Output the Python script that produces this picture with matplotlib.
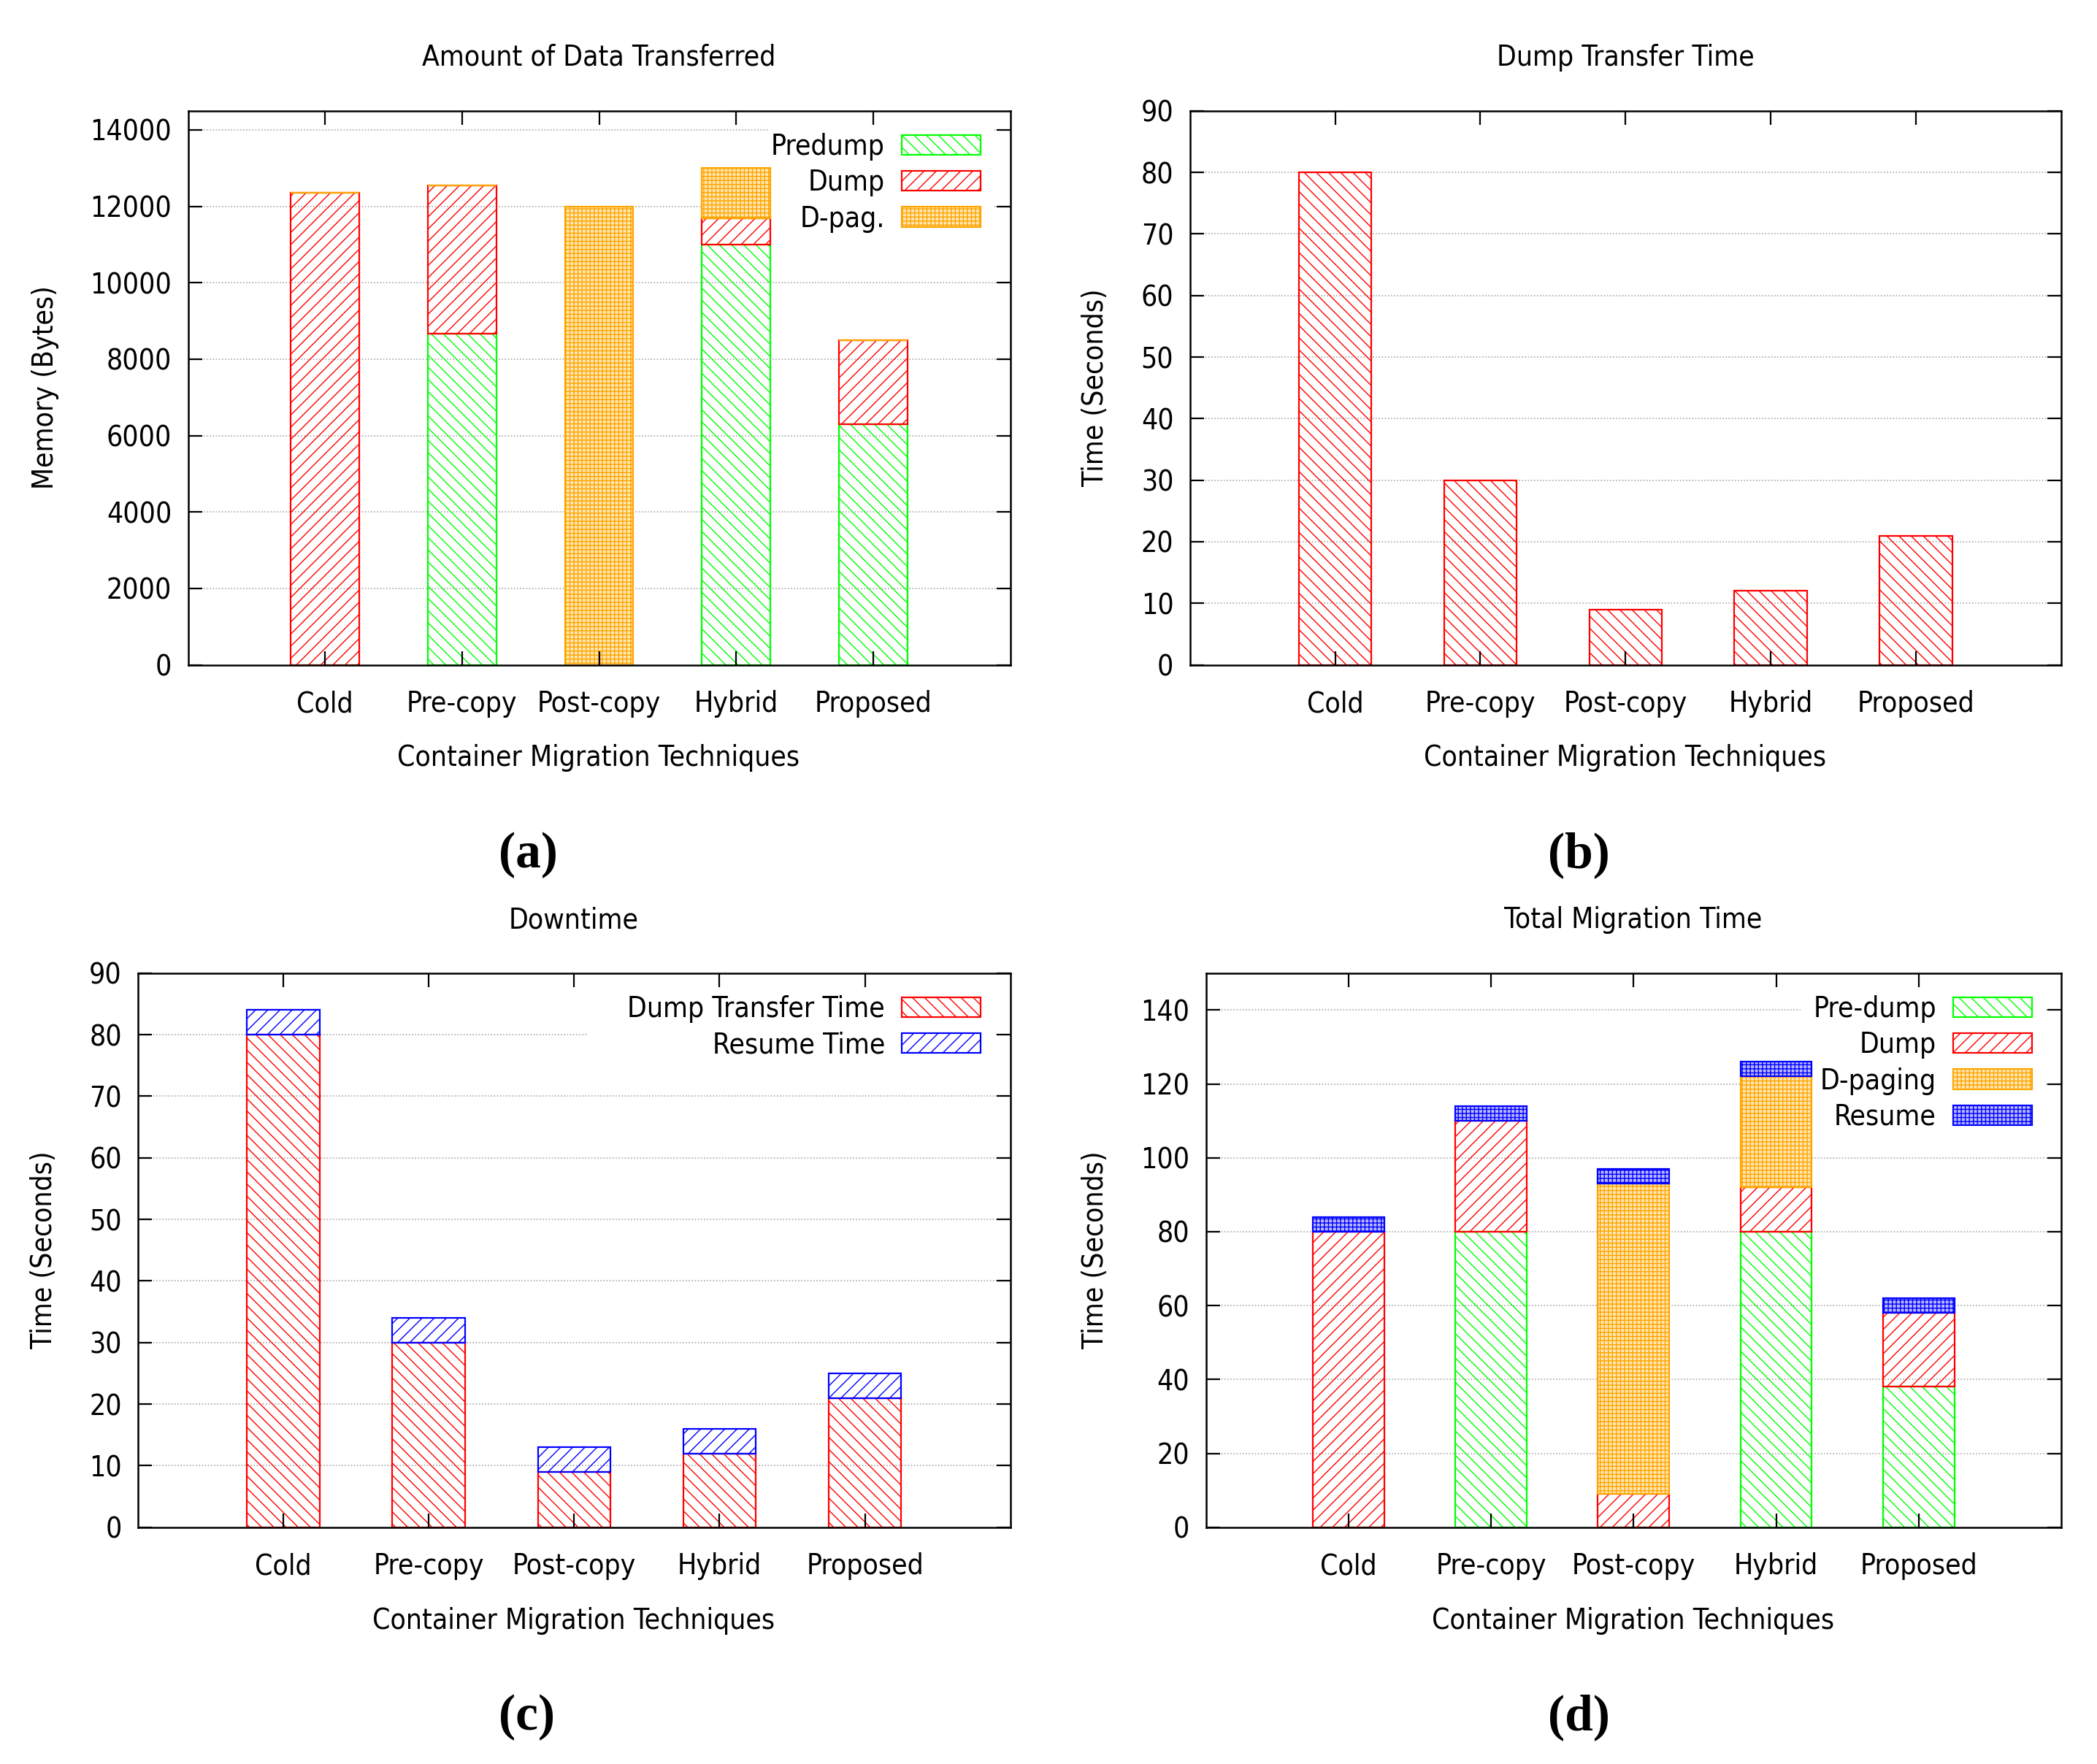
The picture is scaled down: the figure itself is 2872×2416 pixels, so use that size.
import matplotlib
matplotlib.use('Agg')
import matplotlib.pyplot as plt
from matplotlib.patches import Rectangle, Patch

# ---------------- data ----------------
categories = ['Cold', 'Pre-copy', 'Post-copy', 'Hybrid', 'Proposed']

# (a) Amount of Data Transferred
a_predump = [0, 8670, 0, 11000, 6300]
a_dump = [12350, 3880, 0, 680, 2200]
a_dpag = [0, 0, 12000, 1320, 0]
a_yticks = [0, 2000, 4000, 6000, 8000, 10000, 12000, 14000]

# (b) Dump Transfer Time
b_dump_time = [80, 30, 9, 12, 21]
b_yticks = [0, 10, 20, 30, 40, 50, 60, 70, 80, 90]

# (c) Downtime
c_dump_time = [80, 30, 9, 12, 21]
c_resume = [4, 4, 4, 4, 4]
c_yticks = [0, 10, 20, 30, 40, 50, 60, 70, 80, 90]

# (d) Total Migration Time
d_predump = [0, 80, 0, 80, 38]
d_dump = [80, 30, 9, 12, 20]
d_dpaging = [0, 0, 84, 30, 0]
d_resume = [4, 4, 4, 4, 4]
d_yticks = [0, 20, 40, 60, 80, 100, 120, 140]

# ---------------- style ----------------
W, H = 2872, 2416
DPI = 200
FS = 14
SANS = ['DejaVu Sans Condensed', 'DejaVu Sans']
plt.rcParams['font.family'] = SANS
plt.rcParams['font.stretch'] = 'condensed'
plt.rcParams['hatch.linewidth'] = 0.5

GREEN = '#00ff00'
RED = '#ff0000'
ORANGE = '#ffa500'
BLUE = '#0000ff'

ST = {
    'predump': dict(facecolor='none', edgecolor=GREEN, hatch='\\\\\\\\'),
    'dump_fwd': dict(facecolor='none', edgecolor=RED, hatch='////'),
    'dump_back': dict(facecolor='none', edgecolor=RED, hatch='\\\\\\\\'),
    'dpag': dict(facecolor='#ffe6b3', edgecolor=ORANGE, hatch='++++++'),
    'resume_line': dict(facecolor='none', edgecolor=BLUE, hatch='////'),
    'resume_chk': dict(facecolor='#b8b8ff', edgecolor=BLUE, hatch='++++++'),
}
BAR_W = 0.5
EDGE_LW = 0.8

fig = plt.figure(figsize=(W / DPI, H / DPI), dpi=DPI)


def add_ax(l, t, r, b):
    return fig.add_axes([l / W, 1 - b / H, (r - l) / W, (b - t) / H])


def ftext(x, y, s, **kw):
    fig.text(x / W, 1 - y / H, s, ha='center', va='center', **kw)


def style_axes(ax, yticks, ylim):
    x = list(range(len(categories)))
    ax.set_xlim(-1, 5)
    ax.set_ylim(*ylim)
    ax.set_xticks(x)
    ax.set_xticklabels(categories, fontsize=FS)
    ax.set_yticks(yticks)
    ax.set_yticklabels([str(v) for v in yticks], fontsize=FS)
    ax.tick_params(axis='both', direction='in', length=6.8, width=0.8,
                   top=True, right=True, colors='black')
    ax.tick_params(axis='x', pad=12.5)
    ax.tick_params(axis='y', pad=8)
    for s in ax.spines.values():
        s.set_linewidth(0.9)
    for v in yticks:
        if v > ylim[0]:
            ax.axhline(v, color='#a8a8a8', lw=0.6, ls=(0, (1, 1.5)), zorder=0.5)
    return x


def stack(ax, x, series):
    bottom = [0] * len(x)
    for vals, key in series:
        ax.bar(x, vals, bottom=bottom, width=BAR_W, linewidth=EDGE_LW,
               zorder=1, **ST[key])
        bottom = [b + v for b, v in zip(bottom, vals)]


def white_box(ax, l, t, r, b):
    ax.add_artist(Rectangle((l / W, 1 - b / H), (r - l) / W, (b - t) / H,
                            transform=fig.transFigure, facecolor='white',
                            edgecolor='none', zorder=0.7))


def legend(ax, items, x, y):
    handles = [Patch(linewidth=EDGE_LW, **ST[k]) for _, k in items]
    labels = [n for n, _ in items]
    lg = ax.legend(handles, labels, loc='upper right',
                   bbox_to_anchor=(x / W, 1 - y / H),
                   bbox_transform=fig.transFigure, frameon=False,
                   markerfirst=False, fontsize=FS, borderpad=0,
                   borderaxespad=0, handlelength=2.78, handleheight=0.7,
                   handletextpad=0.59, labelspacing=0.29)
    lg.set_zorder(5)


# ---------------- (a) ----------------
axA = add_ax(257.5, 151.8, 1383.6, 910.6)
x = style_axes(axA, a_yticks, (0, 14500))
stack(axA, x, [(a_predump, 'predump'), (a_dump, 'dump_fwd'), (a_dpag, 'dpag')])
white_box(axA, 1053, 173, 1362, 315)
legend(axA, [('Predump', 'predump'), ('Dump', 'dump_fwd'), ('D-pag.', 'dpag')], 1343, 182)
ftext(820, 79, 'Amount of Data Transferred', fontsize=FS)
ftext(62, 531, 'Memory (Bytes)', fontsize=FS, rotation=90)
ftext(820, 1038, 'Container Migration Techniques', fontsize=FS)

# ---------------- (b) ----------------
axB = add_ax(1629.6, 151.8, 2823.0, 910.6)
x = style_axes(axB, b_yticks, (0, 90))
stack(axB, x, [(b_dump_time, 'dump_back')])
ftext(2226, 79, 'Dump Transfer Time', fontsize=FS)
ftext(1500, 531, 'Time (Seconds)', fontsize=FS, rotation=90)
ftext(2226, 1038, 'Container Migration Techniques', fontsize=FS)

# ---------------- (c) ----------------
axC = add_ax(189.0, 1332.8, 1383.6, 2091.7)
x = style_axes(axC, c_yticks, (0, 90))
stack(axC, x, [(c_dump_time, 'dump_back'), (c_resume, 'resume_line')])
white_box(axC, 804, 1354, 1362, 1450)
legend(axC, [('Dump Transfer Time', 'dump_back'), ('Resume Time', 'resume_line')], 1343, 1363)
ftext(786, 1260, 'Downtime', fontsize=FS)
ftext(60, 1712, 'Time (Seconds)', fontsize=FS, rotation=90)
ftext(786, 2219.6, 'Container Migration Techniques', fontsize=FS)

# ---------------- (d) ----------------
axD = add_ax(1651.5, 1332.8, 2823.0, 2091.7)
x = style_axes(axD, d_yticks, (0, 150))
stack(axD, x, [(d_predump, 'predump'), (d_dump, 'dump_fwd'),
               (d_dpaging, 'dpag'), (d_resume, 'resume_chk')])
white_box(axD, 2466, 1354, 2802, 1565)
legend(axD, [('Pre-dump', 'predump'), ('Dump', 'dump_fwd'),
             ('D-paging', 'dpag'), ('Resume', 'resume_chk')], 2783, 1363)
ftext(2237, 1260, 'Total Migration Time', fontsize=FS)
ftext(1500, 1712, 'Time (Seconds)', fontsize=FS, rotation=90)
ftext(2237, 2219.6, 'Container Migration Techniques', fontsize=FS)

# ---------------- panel labels ----------------
PL = dict(fontsize=25, fontweight='bold', family=['Liberation Serif', 'DejaVu Serif'])
ftext(723, 1171, '(a)', **PL)
ftext(2162, 1171, '(b)', **PL)
ftext(721, 2352, '(c)', **PL)
ftext(2162, 2352, '(d)', **PL)

fig.savefig('out.png', dpi=DPI)
